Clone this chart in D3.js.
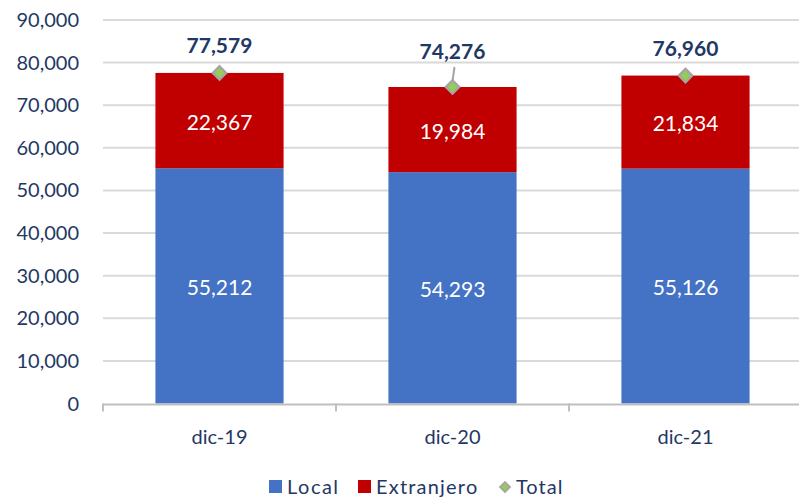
<!DOCTYPE html>
<html>
<head>
  <meta charset="utf-8">
  <script src="https://d3js.org/d3.v7.min.js"></script>
  <style>
    body { margin: 0; background: #fff; }
    text { font-family: Lato, "Noto Sans", sans-serif; }
  </style>
</head>
<body>
<script>
  // data
  var categories = ["dic-19", "dic-20", "dic-21"];
  var local = [55212, 54293, 55126];
  var extranjero = [22367, 19984, 21834];
  var total = [77579, 74276, 76960];
  var yTicks = [0, 10000, 20000, 30000, 40000, 50000, 60000, 70000, 80000, 90000];
  var legendLabels = ["Local", "Extranjero", "Total"];

  var w = 799, h = 498;
  var navy = "#1F3864";
  var svg = d3.select("body").append("svg").attr("width", w).attr("height", h);

  var x = d3.scaleBand().domain(categories).range([103, 802]).paddingInner(0.45).paddingOuter(0.225);
  var y = d3.scaleLinear().domain([0, 90000]).range([403.5, 20]);
  var fmt = d3.format(",");

  // gridlines
  svg.append("g").selectAll("line").data(yTicks.slice(1)).enter().append("line")
    .attr("x1", 103).attr("x2", 799)
    .attr("y1", function(d) { return y(d); }).attr("y2", function(d) { return y(d); })
    .attr("stroke", "#D9D9D9").attr("stroke-width", 2);

  // y tick labels
  svg.append("g").selectAll("text").data(yTicks).enter().append("text")
    .attr("x", 79).attr("y", function(d) { return y(d) + 7; })
    .attr("text-anchor", "end").attr("font-size", 20).attr("fill", navy)
    .text(function(d) { return fmt(d); });

  // stacked bars
  var g = svg.append("g");
  g.selectAll("rect.local").data(categories).enter().append("rect")
    .attr("x", function(d) { return x(d); }).attr("width", x.bandwidth())
    .attr("y", function(d, i) { return y(local[i]); })
    .attr("height", function(d, i) { return y(0) - y(local[i]); })
    .attr("fill", "#4472C4");
  g.selectAll("rect.ext").data(categories).enter().append("rect")
    .attr("x", function(d) { return x(d); }).attr("width", x.bandwidth())
    .attr("y", function(d, i) { return y(local[i] + extranjero[i]); })
    .attr("height", function(d, i) { return y(local[i]) - y(local[i] + extranjero[i]); })
    .attr("fill", "#C00000");

  // segment labels
  g.selectAll("text.l").data(categories).enter().append("text")
    .attr("x", function(d) { return x(d) + x.bandwidth() / 2; })
    .attr("y", function(d, i) { return y(local[i] / 2) + 9; })
    .attr("text-anchor", "middle").attr("font-size", 21).attr("fill", "#fff")
    .text(function(d, i) { return fmt(local[i]); });
  g.selectAll("text.e").data(categories).enter().append("text")
    .attr("x", function(d) { return x(d) + x.bandwidth() / 2; })
    .attr("y", function(d, i) { return y(local[i] + extranjero[i] / 2) + 9; })
    .attr("text-anchor", "middle").attr("font-size", 21).attr("fill", "#fff")
    .text(function(d, i) { return fmt(extranjero[i]); });

  // x axis line + ticks
  var ax = svg.append("g").attr("stroke", "#BFBFBF").attr("stroke-width", 2);
  ax.append("line").attr("x1", 103).attr("x2", 799).attr("y1", y(0) + 1).attr("y2", y(0) + 1);
  [0, 1, 2].forEach(function(i) {
    var xx = x(categories[i]) - x.step() * x.paddingInner() / 2;
    ax.append("line").attr("x1", xx).attr("x2", xx).attr("y1", y(0)).attr("y2", y(0) + 8);
  });

  svg.append("g").selectAll("text").data(categories).enter().append("text")
    .attr("x", function(d) { return x(d) + x.bandwidth() / 2; })
    .attr("y", 444).attr("text-anchor", "middle").attr("font-size", 20).attr("fill", navy)
    .text(function(d) { return d; });

  // total markers and labels
  var labelDy = [-20, -28, -20];
  // dic-20 label sits higher, with a leader line
  svg.append("line")
    .attr("x1", x(categories[1]) + x.bandwidth() / 2 + 2).attr("y1", y(total[1]) - 20)
    .attr("x2", x(categories[1]) + x.bandwidth() / 2).attr("y2", y(total[1]) - 6)
    .attr("stroke", "#A5A5A5").attr("stroke-width", 2);

  var diamond = d3.symbol().type(d3.symbolDiamond2).size(110);
  svg.append("g").selectAll("path").data(categories).enter().append("path")
    .attr("d", diamond)
    .attr("transform", function(d, i) { return "translate(" + (x(d) + x.bandwidth() / 2) + "," + y(total[i]) + ")"; })
    .attr("fill", "#92D050").attr("stroke", "#A5A5A5").attr("stroke-width", 2.5);

  svg.append("g").selectAll("text").data(categories).enter().append("text")
    .attr("x", function(d) { return x(d) + x.bandwidth() / 2; })
    .attr("y", function(d, i) { return y(total[i]) + labelDy[i]; })
    .attr("text-anchor", "middle").attr("font-size", 21).attr("font-weight", "bold").attr("fill", navy)
    .text(function(d, i) { return fmt(total[i]); });

  // legend
  var leg = svg.append("g").attr("transform", "translate(0,487)");
  leg.append("rect").attr("x", 269).attr("y", -7).attr("width", 13).attr("height", 13).attr("fill", "#4472C4");
  leg.append("text").attr("x", 287).attr("y", 7).attr("font-size", 20).attr("letter-spacing", 1.5).attr("fill", navy).text(legendLabels[0]);
  leg.append("rect").attr("x", 358).attr("y", -7).attr("width", 13).attr("height", 13).attr("fill", "#C00000");
  leg.append("text").attr("x", 376).attr("y", 7).attr("font-size", 20).attr("letter-spacing", 1.2).attr("fill", navy).text(legendLabels[1]);
  leg.append("path").attr("d", d3.symbol().type(d3.symbolDiamond2).size(60))
    .attr("transform", "translate(505,0)").attr("fill", "#92D050").attr("stroke", "#A5A5A5").attr("stroke-width", 2);
  leg.append("text").attr("x", 516).attr("y", 7).attr("font-size", 20).attr("letter-spacing", 1).attr("fill", navy).text(legendLabels[2]);
</script>
</body>
</html>
